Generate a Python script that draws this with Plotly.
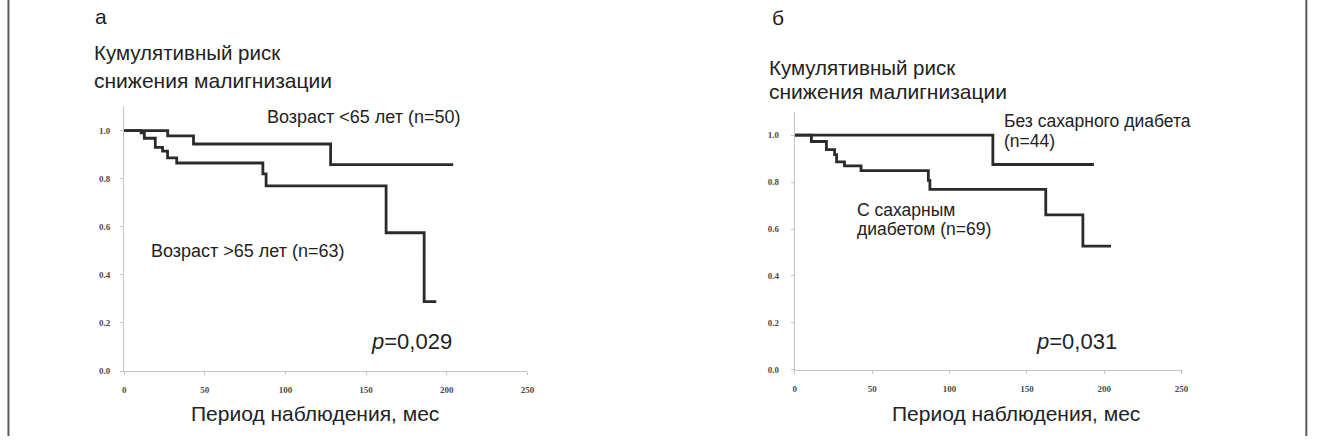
import plotly.graph_objects as go

W, H = 1317, 441

# ---- data ----
x_ticks = [0, 50, 100, 150, 200, 250]
y_ticks = [0.0, 0.2, 0.4, 0.6, 0.8, 1.0]

age_lt65_t = [0, 27, 43, 128, 204]
age_lt65_s = [1.0, 0.978, 0.944, 0.858, 0.858]

age_gt65_t = [0, 10.5, 12.5, 19.3, 23.8, 26.9, 32.6, 86, 88, 162.4, 186, 193.5]
age_gt65_s = [1.0, 0.99, 0.968, 0.93, 0.914, 0.886, 0.865, 0.82, 0.77, 0.575, 0.289, 0.289]

no_dm_t = [0, 128, 193.3]
no_dm_s = [1.0, 0.875, 0.875]

dm_t = [0, 10.7, 20.4, 25.7, 27, 32.1, 42.8, 86.3, 87.3, 162.2, 186.2, 204.4]
dm_s = [1.0, 0.973, 0.938, 0.917, 0.886, 0.869, 0.849, 0.807, 0.769, 0.66, 0.527, 0.527]

TXT = "#222222"
FONT = "Liberation Sans, Arial, sans-serif"
LINE = "#2b2b2b"


def px(x):
    return x / W


def py(y):
    return 1 - y / H


fig = go.Figure()
fig.add_trace(go.Scatter(x=age_lt65_t, y=age_lt65_s, mode="lines", line_shape="hv",
                         line=dict(color=LINE, width=2.8), xaxis="x", yaxis="y", showlegend=False))
fig.add_trace(go.Scatter(x=age_gt65_t, y=age_gt65_s, mode="lines", line_shape="hv",
                         line=dict(color=LINE, width=2.8), xaxis="x", yaxis="y", showlegend=False))
fig.add_trace(go.Scatter(x=no_dm_t, y=no_dm_s, mode="lines", line_shape="hv",
                         line=dict(color=LINE, width=2.8), xaxis="x2", yaxis="y2", showlegend=False))
fig.add_trace(go.Scatter(x=dm_t, y=dm_s, mode="lines", line_shape="hv",
                         line=dict(color=LINE, width=2.8), xaxis="x2", yaxis="y2", showlegend=False))

tickfont = dict(family="Liberation Serif, DejaVu Serif, serif", size=9, color="#4a4a4a", weight="bold")
axcommon = dict(showgrid=False, zeroline=False, showline=True, linecolor="#c4c4c4", linewidth=1,
                ticks="outside", ticklen=3, tickcolor="#c4c4c4", tickfont=tickfont, fixedrange=True)

fig.update_layout(
    width=W, height=H, margin=dict(l=0, r=0, t=0, b=0),
    paper_bgcolor="white", plot_bgcolor="white",
    xaxis=dict(domain=[px(123), px(529)], range=[0, 250], tickvals=x_ticks, anchor="y",
               ticklabelstandoff=7, **axcommon),
    yaxis=dict(domain=[py(375.3), py(107.7)], range=[0, 1.1], tickvals=y_ticks, tickformat=".1f",
               anchor="x", ticklabelstandoff=8, **axcommon),
    xaxis2=dict(domain=[px(798.3), px(1187.7)], range=[0, 250], tickvals=x_ticks, anchor="y2",
                ticklabelstandoff=7, **axcommon),
    yaxis2=dict(domain=[py(374), py(113)], range=[0, 1.1], tickvals=y_ticks, tickformat=".1f",
                anchor="x2", ticklabelstandoff=10, **axcommon),
)


def ann(text, x, y, size=17):
    fig.add_annotation(text=text, x=px(x), y=py(y), xref="paper", yref="paper",
                       xanchor="left", yanchor="middle", showarrow=False,
                       font=dict(family=FONT, size=size, color=TXT))


# left panel
ann("а", 92, 17, 21)
ann("Кумулятивный риск", 91, 53, 20.5)
ann("снижения малигнизации", 91, 81, 21)
ann("Возраст &lt;65 лет (n=50)", 265, 118, 18)
ann("Возраст &gt;65 лет (n=63)", 148, 254, 18)
ann("<i>p</i>=0,029", 370, 345, 22)
ann("Период наблюдения, мес", 188, 418, 21)

# right panel
ann("б", 773, 18, 21)
ann("Кумулятивный риск", 770, 68, 20.5)
ann("снижения малигнизации", 770, 93, 21)
ann("Без сахарного диабета", 1007, 122, 17.5)
ann("(n=44)", 1007, 143, 17.5)
ann("С сахарным", 859, 212, 17.5)
ann("диабетом (n=69)", 859, 232, 17.5)
ann("<i>p</i>=0,031", 1039, 345, 22)
ann("Период наблюдения, мес", 894, 418, 21)

# frame lines at the left and right edges
for xx in (6.5, 1313.3):
    fig.add_shape(type="line", xref="paper", yref="paper", x0=px(xx), x1=px(xx), y0=0, y1=1,
                  line=dict(color="#5a5a5a", width=2))

fig.write_html("out.html", config={"displayModeBar": False, "staticPlot": True},
               post_script="document.body.style.margin='0';document.body.style.padding='0';")
